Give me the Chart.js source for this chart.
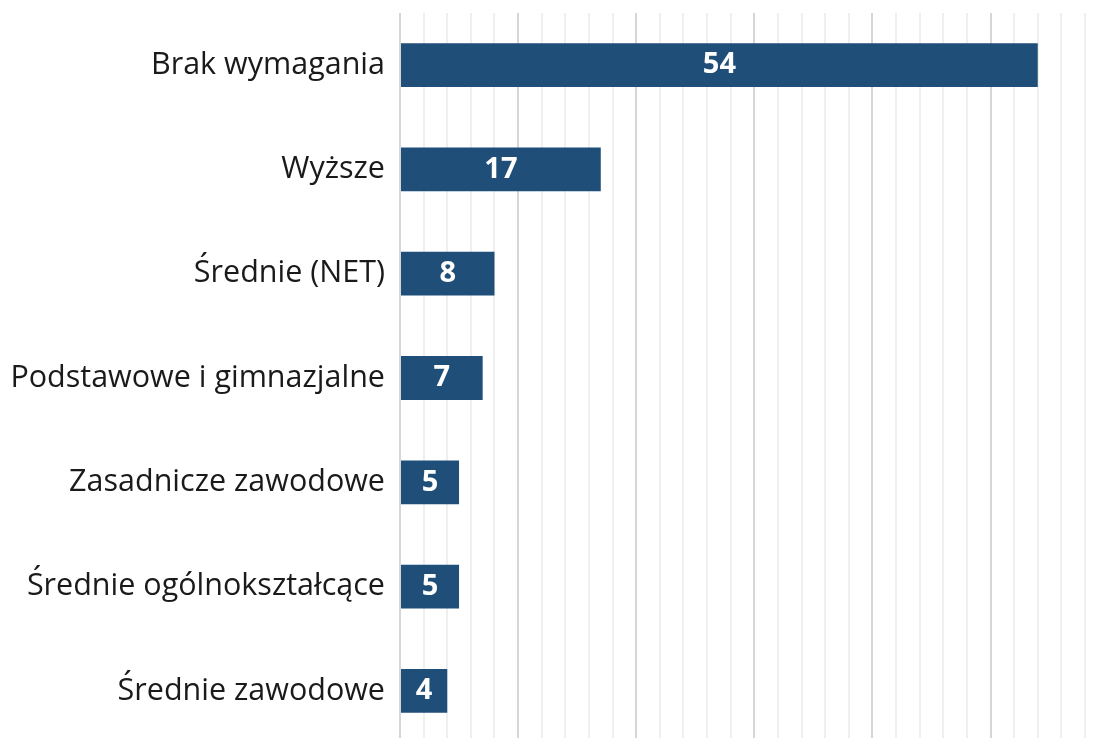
<!DOCTYPE html>
<html>
<head>
<meta charset="utf-8">
<script src="https://cdn.jsdelivr.net/npm/chart.js@4/dist/chart.umd.min.js"></script>
<style>
html,body{margin:0;padding:0;background:#fff;overflow:hidden;}
#wrap{width:1099px;height:744px;}
</style>
</head>
<body>
<div id="wrap"><canvas id="c" width="1099" height="744"></canvas></div>
<script>
const categories = ["Brak wymagania","Wyższe","Średnie (NET)","Podstawowe i gimnazjalne","Zasadnicze zawodowe","Średnie ogólnokształcące","Średnie zawodowe"];
const values = [54,17,8,7,5,5,4];
const axisMin = 0;
const axisMax = 58;
const tickStep = 2;

const labelPlugin = {
  id: 'barLabels',
  afterDatasetsDraw(chart) {
    const ctx = chart.ctx;
    const meta = chart.getDatasetMeta(0);
    ctx.save();
    ctx.font = 'bold 29px "Open Sans", Arial, sans-serif';
    ctx.fillStyle = '#ffffff';
    ctx.textAlign = 'center';
    ctx.textBaseline = 'middle';
    meta.data.forEach((bar, i) => {
      const cx = (bar.x + bar.base) / 2;
      ctx.fillText(String(values[i]), cx, bar.y);
    });
    ctx.restore();
  }
};

new Chart(document.getElementById('c'), {
  type: 'bar',
  data: {
    labels: categories,
    datasets: [{
      data: values,
      backgroundColor: '#1F4E79',
      borderWidth: 0,
      categoryPercentage: 1,
      barPercentage: 0.42
    }]
  },
  options: {
    indexAxis: 'y',
    responsive: false,
    animation: false,
    devicePixelRatio: 1,
    layout: { padding: { top: 13, right: 14, bottom: 1, left: 0 } },
    plugins: { legend: { display: false }, tooltip: { enabled: false } },
    scales: {
      x: {
        min: axisMin, max: axisMax,
        ticks: { display: false, stepSize: tickStep },
        border: { display: false },
        grid: {
          drawTicks: false,
          color: (c) => (c.tick && c.tick.value % 10 === 0) ? '#d6d6d6' : '#efefef',
          lineWidth: 2
        },
        afterFit(scale) { scale.height = 0; scale.paddingLeft = 0; scale.paddingRight = 0; }
      },
      y: {
        border: { display: false },
        grid: { display: false, drawTicks: false },
        ticks: {
          color: '#1a1a1a',
          padding: 15,
          font: { family: '"Open Sans", Arial, sans-serif', size: 30.5 }
        },
        afterFit(scale) { scale.width = 400; scale.paddingTop = 0; scale.paddingBottom = 0; }
      }
    }
  },
  plugins: [labelPlugin]
});
</script>
</body>
</html>
